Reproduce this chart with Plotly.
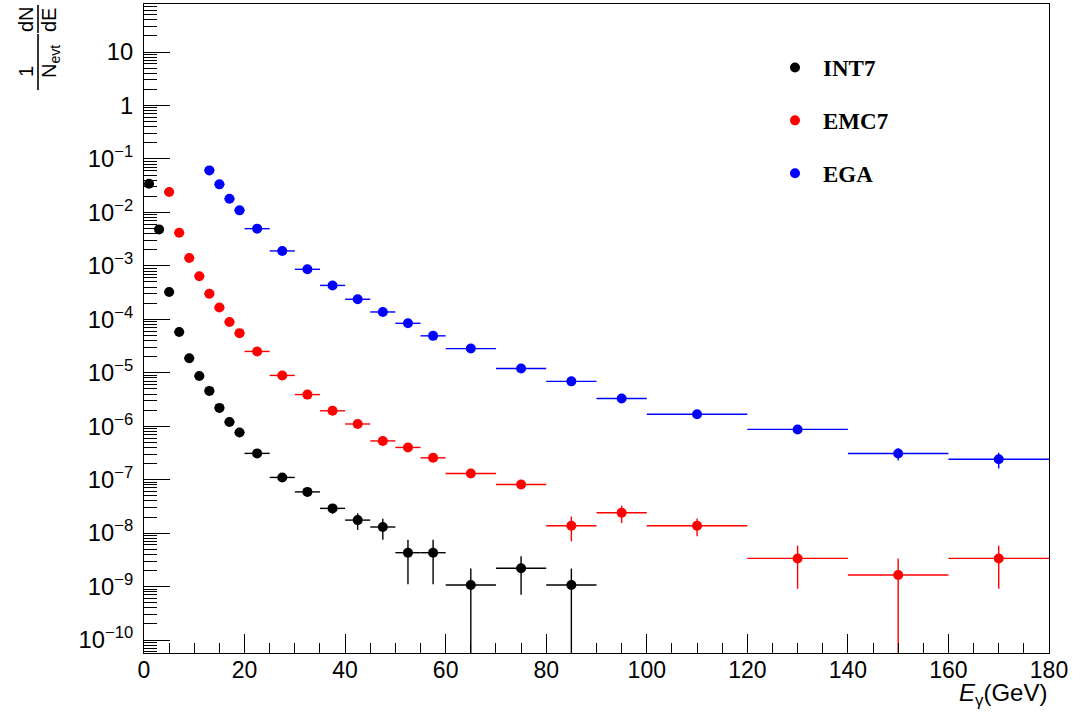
import plotly.graph_objects as go

# ---- measured spectra: bin centres, bin half-widths, yields, statistical errors ----
int7_x = [1, 3, 5, 7, 9, 11, 13, 15, 17, 19,
          22.5, 27.5, 32.5, 37.5, 42.5, 47.5, 52.5, 57.5,
          65, 75, 85]
int7_xerr = [1, 1, 1, 1, 1, 1, 1, 1, 1, 1,
             2.5, 2.5, 2.5, 2.5, 2.5, 2.5, 2.5, 2.5,
             5, 5, 5]
int7_y = [3.44e-2, 4.8e-3, 3.24e-4, 5.8e-5, 1.86e-5, 8.7e-6, 4.57e-6, 2.2e-6, 1.2e-6, 7.6e-7,
          3.1e-7, 1.1e-7, 5.9e-8, 2.9e-8, 1.75e-8, 1.3e-8, 4.3e-9, 4.3e-9,
          1.07e-9, 2.2e-9, 1.07e-9]
int7_err = [2e-4, 5e-5, 5e-6, 1.5e-6, 6e-7, 4e-7, 2.5e-7, 1.5e-7, 1e-7, 7e-8,
            3e-8, 1.3e-8, 8e-9, 6e-9, 6e-9, 5.5e-9, 3.2e-9, 3.2e-9,
            1.1e-9, 1.5e-9, 1.1e-9]

emc7_x = [5, 7, 9, 11, 13, 15, 17, 19,
          22.5, 27.5, 32.5, 37.5, 42.5, 47.5, 52.5, 57.5,
          65, 75, 85, 95,
          110, 130, 150, 170]
emc7_xerr = [1, 1, 1, 1, 1, 1, 1, 1,
             2.5, 2.5, 2.5, 2.5, 2.5, 2.5, 2.5, 2.5,
             5, 5, 5, 5,
             10, 10, 10, 10]
emc7_y = [2.4e-2, 4.17e-3, 1.4e-3, 6.4e-4, 3.0e-4, 1.66e-4, 8.9e-5, 5.5e-5,
          2.5e-5, 8.9e-6, 3.9e-6, 1.94e-6, 1.1e-6, 5.3e-7, 4.0e-7, 2.56e-7,
          1.3e-7, 8.1e-8, 1.37e-8, 2.4e-8,
          1.37e-8, 3.36e-9, 1.64e-9, 3.36e-9]
emc7_err = [1e-4, 3e-5, 1.5e-5, 8e-6, 4e-6, 2.5e-6, 1.5e-6, 1e-6,
            4e-7, 1.5e-7, 7e-8, 4e-8, 2.5e-8, 1.5e-8, 1.2e-8, 9e-9,
            6e-9, 5e-9, 6.7e-9, 8.6e-9,
            5e-9, 2.45e-9, 1.7e-9, 2.45e-9]

ega_x = [13, 15, 17, 19,
         22.5, 27.5, 32.5, 37.5, 42.5, 47.5, 52.5, 57.5,
         65, 75, 85, 95,
         110, 130, 150, 170]
ega_xerr = [1, 1, 1, 1,
            2.5, 2.5, 2.5, 2.5, 2.5, 2.5, 2.5, 2.5,
            5, 5, 5, 5,
            10, 10, 10, 10]
ega_y = [6.1e-2, 3.34e-2, 1.8e-2, 1.09e-2,
         4.96e-3, 1.9e-3, 8.6e-4, 4.3e-4, 2.37e-4, 1.37e-4, 8.4e-5, 4.9e-5,
         2.83e-5, 1.2e-5, 6.9e-6, 3.3e-6,
         1.67e-6, 8.7e-7, 3.08e-7, 2.4e-7]
ega_err = [3e-4, 2e-4, 1.2e-4, 8e-5,
           3e-5, 1.2e-5, 6e-6, 3e-6, 1.8e-6, 1.1e-6, 7e-7, 4.5e-7,
           2.5e-7, 1.2e-7, 8e-8, 5e-8,
           3e-8, 1.2e-7, 8e-8, 7.8e-8]

series = [
    ("INT7", int7_x, int7_xerr, int7_y, int7_err, "#000000"),
    ("EMC7", emc7_x, emc7_xerr, emc7_y, emc7_err, "#ff0000"),
    ("EGA", ega_x, ega_xerr, ega_y, ega_err, "#0000ff"),
]

# page geometry of the frame (pixels)
W, H = 1086, 713
ML, MR, MT, MB = 144, 37, 4, 60
PW, PH = W - ML - MR, H - MT - MB


def px(x):
    return (x - ML) / PW


def py(y):
    return (H - MB - y) / PH


fig = go.Figure()

# error bars that reach zero are cut at a floor far below the visible range
FLOOR = 1e-13
for name, x, xe, y, ye, col in series:
    lower = [min(e, v - FLOOR) for v, e in zip(y, ye)]
    fig.add_trace(go.Scatter(
        x=x, y=y, name=name, mode="markers",
        legendgroup=name,
        marker=dict(color=col, size=10, symbol="circle"),
        error_x=dict(type="data", array=xe, color=col, thickness=1.4, width=0),
        error_y=dict(type="data", array=ye, arrayminus=lower, symmetric=False,
                     color=col, thickness=1.4, width=0),
    ))

axis_font = dict(family="Liberation Sans, Arial, sans-serif", color="black")

fig.update_layout(
    width=W, height=H,
    margin=dict(l=ML, r=MR, t=MT, b=MB),
    paper_bgcolor="white", plot_bgcolor="white",
    showlegend=True,
    legend=dict(
        x=px(767), y=py(46), xanchor="left", yanchor="top",
        bgcolor="rgba(0,0,0,0)", borderwidth=0,
        font=dict(family="Liberation Serif, Times New Roman, serif", size=23, color="black",
                  weight="bold"),
        tracegroupgap=20, itemwidth=46,
    ),
    xaxis=dict(
        range=[0, 180], dtick=20, tick0=0,
        showgrid=False, zeroline=False,
        showline=True, linecolor="black", linewidth=1, mirror=True,
        ticks="inside", ticklen=19, tickwidth=1, tickcolor="black",
        minor=dict(dtick=5, ticks="inside", ticklen=10, tickwidth=1, tickcolor="black", showgrid=False),
        tickfont=dict(size=23, **axis_font),
        ticklabelstandoff=-4,
    ),
    yaxis=dict(
        type="log", range=[-10.243, 1.898], dtick=1,
        exponentformat="power",
        showgrid=False, zeroline=False,
        showline=True, linecolor="black", linewidth=1, mirror=True,
        ticks="inside", ticklen=26, tickwidth=1, tickcolor="black",
        minor=dict(dtick="D1", ticks="inside", ticklen=13, tickwidth=1, tickcolor="black", showgrid=False),
        tickfont=dict(size=19, **axis_font),
        ticklabelstandoff=6,
    ),
)

title_font = dict(family="Liberation Sans, Arial, sans-serif", size=20, color="black")

# y title: 1/N_evt dN/dE written as two rotated fractions
ytitle_parts = [
    ("1", 26, 71),
    ("N<sub>evt</sub>", 51, 62),
    ("dN", 26, 19),
    ("dE", 49, 20),
]
for txt, cx, cy in ytitle_parts:
    fig.add_annotation(text=txt, x=px(cx), y=py(cy), xref="paper", yref="paper",
                       showarrow=False, textangle=-90, xanchor="center", yanchor="middle",
                       font=title_font)
for y0, y1 in [(34, 90), (5, 33)]:
    fig.add_shape(type="line", xref="paper", yref="paper",
                  x0=px(38), x1=px(38), y0=py(y0), y1=py(y1),
                  line=dict(color="black", width=1.6))

# x title
fig.add_annotation(text="<i>E</i><sub>γ</sub>(GeV)", x=px(1049), y=py(694),
                   xref="paper", yref="paper", showarrow=False,
                   xanchor="right", yanchor="middle",
                   font=dict(family="Liberation Sans, Arial, sans-serif", size=24, color="black"))

fig.write_html("out.html")
